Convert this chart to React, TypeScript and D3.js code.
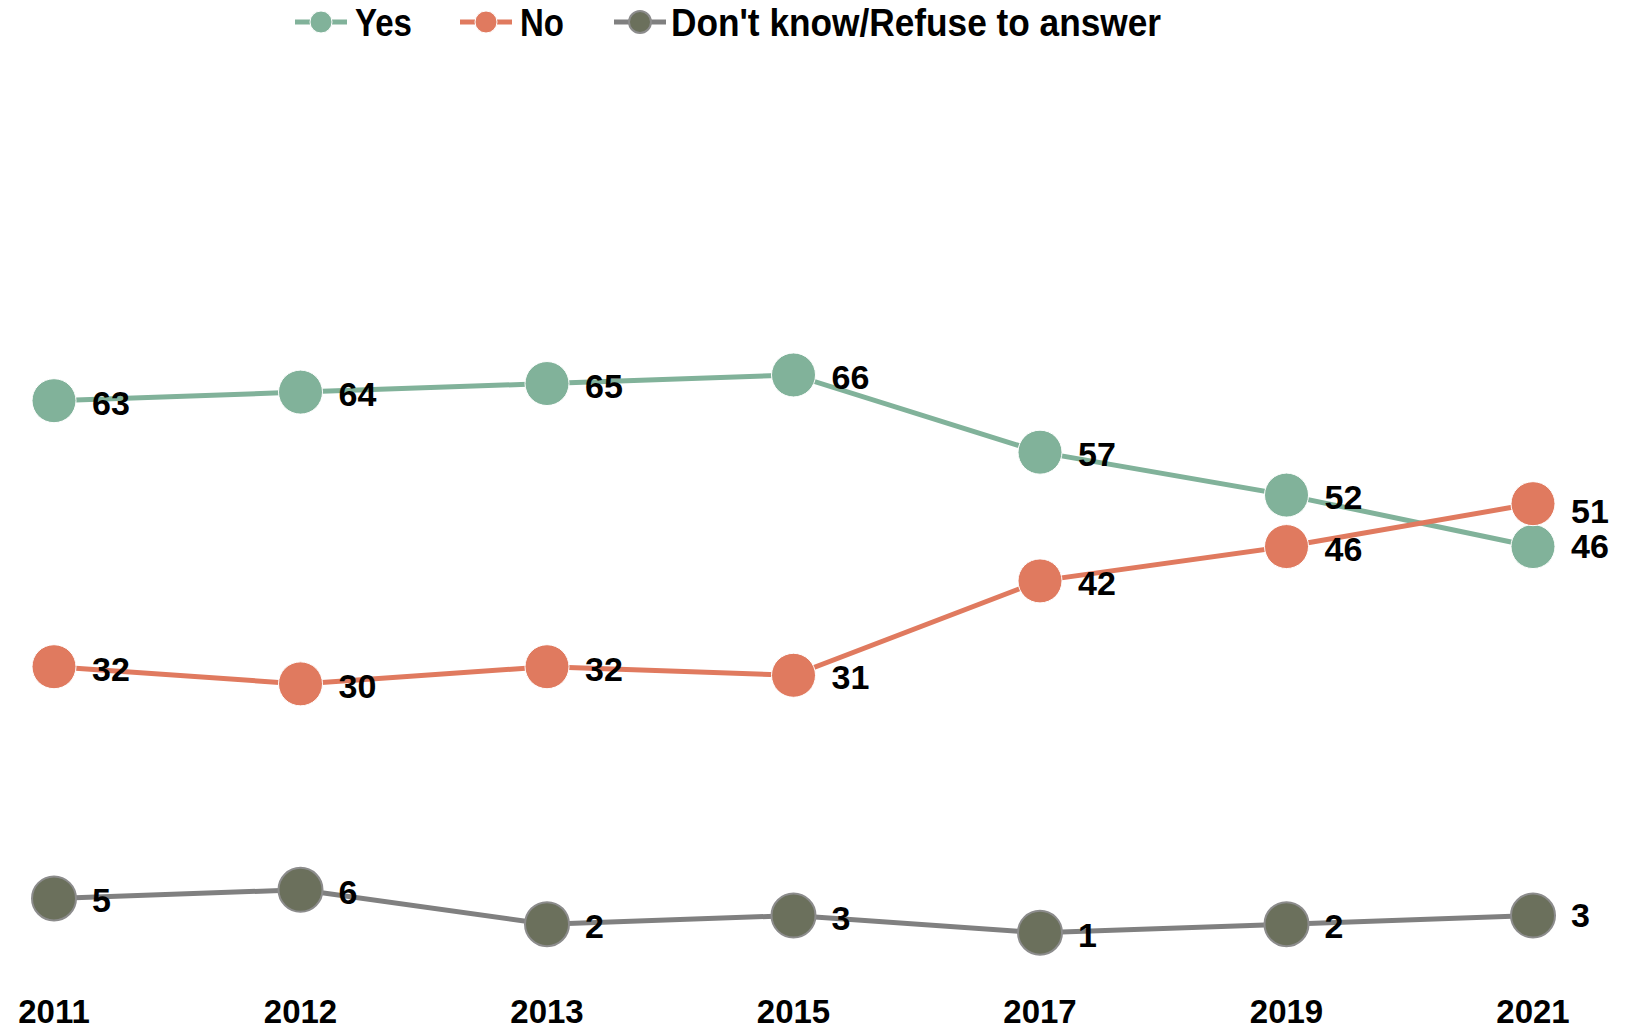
import React from "react";
import * as d3 from "d3";

const years = ["2011", "2012", "2013", "2015", "2017", "2019", "2021"];
const yesValues = [63, 64, 65, 66, 57, 52, 46];
const noValues = [32, 30, 32, 31, 42, 46, 51];
const dkValues = [5, 6, 2, 3, 1, 2, 3];
const seriesNames = ["Yes", "No", "Don't know/Refuse to answer"];

const W = 1636;
const H = 1029;

const series = [
  { name: seriesNames[0], values: yesValues, line: "#81b29a", fill: "#81b29a", stroke: "#ffffff", sw: 1 },
  { name: seriesNames[1], values: noValues, line: "#e07a5f", fill: "#e07a5f", stroke: "#ffffff", sw: 1 },
  { name: seriesNames[2], values: dkValues, line: "#808080", fill: "#6b705c", stroke: "#8c8c8c", sw: 2 },
];

export default function App() {
  const x = d3.scalePoint<string>().domain(years).range([54, 1533]);
  const y = d3.scaleLinear().domain([0, 100]).range([941.3, 83.2]);
  const line = d3
    .line<number>()
    .x((_, i) => x(years[i]) as number)
    .y((d) => y(d));

  const labelFont = "'Liberation Sans', Arial, sans-serif";
  const legendFont = "'Liberation Sans', Arial, sans-serif";

  const legendItems = [
    { s: series[0], x0: 295, tx: 355, w: 57 },
    { s: series[1], x0: 460, tx: 520, w: 44 },
    { s: series[2], x0: 614, tx: 671, w: 490 },
  ];

  const labelDy = (si: number, i: number) => {
    if (i === years.length - 1) {
      if (si === 1) return 19;
      return 11;
    }
    return 14;
  };

  return (
    <svg
      width={W}
      height={H}
      style={{ position: "absolute", left: 0, top: 0, background: "#fff" }}
    >
      {legendItems.map((it, k) => (
        <g key={k}>
          <line x1={it.x0} x2={it.x0 + 52} y1={22} y2={22} stroke={it.s.line} strokeWidth={5} />
          <circle cx={it.x0 + 26} cy={22} r={11} fill={it.s.fill} stroke={it.s.stroke} strokeWidth={it.s.sw} />
          <text
            x={it.tx}
            y={36}
            fontFamily={legendFont}
            fontWeight="bold"
            fontSize={38}
            fill="#000"
            textLength={it.w}
            lengthAdjust="spacingAndGlyphs"
          >
            {it.s.name}
          </text>
        </g>
      ))}
      {series.map((s, si) => (
        <g key={si}>
          <path d={line(s.values) || ""} fill="none" stroke={s.line} strokeWidth={5} />
          {s.values.map((v, i) => (
            <circle
              key={i}
              cx={x(years[i])}
              cy={y(v)}
              r={22}
              fill={s.fill}
              stroke={s.stroke}
              strokeWidth={s.sw}
            />
          ))}
          {s.values.map((v, i) => (
            <text
              key={"t" + i}
              x={(x(years[i]) as number) + 38}
              y={y(v) + labelDy(si, i)}
              fontFamily={labelFont}
              fontWeight="bold"
              fontSize={34}
              fill="#000"
            >
              {v}
            </text>
          ))}
        </g>
      ))}
      {years.map((yr) => (
        <text
          key={yr}
          x={x(yr)}
          y={1023}
          textAnchor="middle"
          fontFamily={labelFont}
          fontWeight="bold"
          fontSize={33}
          fill="#000"
        >
          {yr}
        </text>
      ))}
    </svg>
  );
}
